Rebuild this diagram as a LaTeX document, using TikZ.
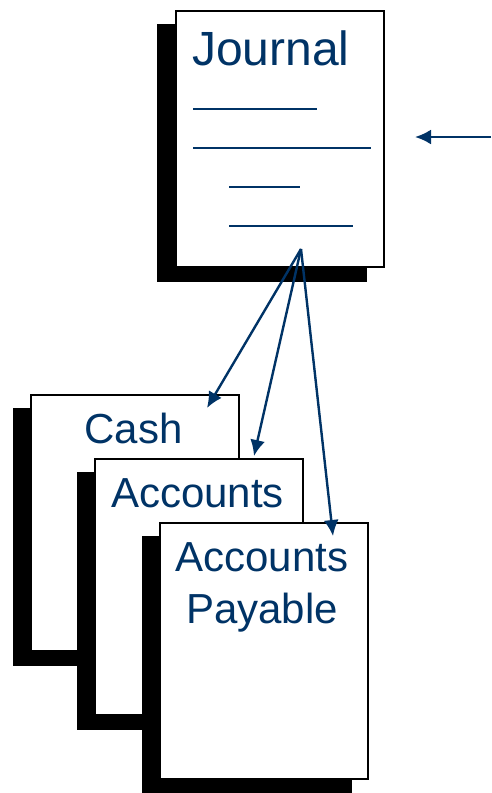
\documentclass[tikz,border=0pt]{standalone}
\usepackage{fontspec}
\setmainfont{Liberation Sans}
\usetikzlibrary{arrows.meta}
\definecolor{navy}{RGB}{0,51,102}
\tikzset{
  x=1pt, y=-1pt,
  shadowbox/.style={fill=black, draw=none, minimum width=210pt, minimum height=258pt, inner sep=0pt, anchor=north west},
  pagebox/.style={fill=white, draw=black, line width=2.2pt, minimum width=208pt, minimum height=256pt, inner sep=0pt, anchor=north west},
  lbl/.style={text=navy, inner sep=0pt, anchor=base, font=\fontsize{42}{52}\selectfont, align=center},
  rule/.style={draw=navy, line width=2pt},
  link/.style={draw=navy, line width=2.4pt, -{Latex[length=16pt,width=15pt]}}
}
\begin{document}
\begin{tikzpicture}
\useasboundingbox (0,0) rectangle (491,793);
% Journal
\node[shadowbox] (jshadow) at (157,24) {};
\node[pagebox] (journal) at (175,10) {};
\node[text=navy, inner sep=0pt, anchor=base west, font=\fontsize{48}{52}\selectfont] (jtitle) at (192,65) {Journal};
\draw[rule] (193,109) -- (317,109);
\draw[rule] (193,148) -- (371,148);
\draw[rule] (229,187) -- (300,187);
\draw[rule] (229,226) -- (353,226);
% Cash
\node[shadowbox] (cshadow) at (13,408) {};
\node[pagebox] (cash) at (30,394) {};
\node[lbl] (cashtxt) at (133.5,443) {Cash};
% Accounts
\node[shadowbox] (ashadow) at (77,472) {};
\node[pagebox] (acc) at (94,458) {};
\node[lbl] (acctxt) at (197.5,507) {Accounts};
% Accounts Payable
\node[shadowbox] (pshadow) at (142,536) {};
\node[pagebox] (ap) at (159,522) {};
\node[lbl] (aptxt) at (262,623) {Accounts\\Payable};
% connectors
\coordinate (src) at (301,249);
\coordinate (cashtip) at (207,408);
\coordinate (acctip) at (254,456);
\coordinate (aptip) at (333,536);
\draw[link] (src) -- (cashtip);
\draw[link] (src) -- (acctip);
\draw[link] (src) -- (aptip);
\coordinate (inflow) at (491,137);
\coordinate (intip) at (415,137);
\draw[link] (inflow) -- (intip);
\end{tikzpicture}
\end{document}
